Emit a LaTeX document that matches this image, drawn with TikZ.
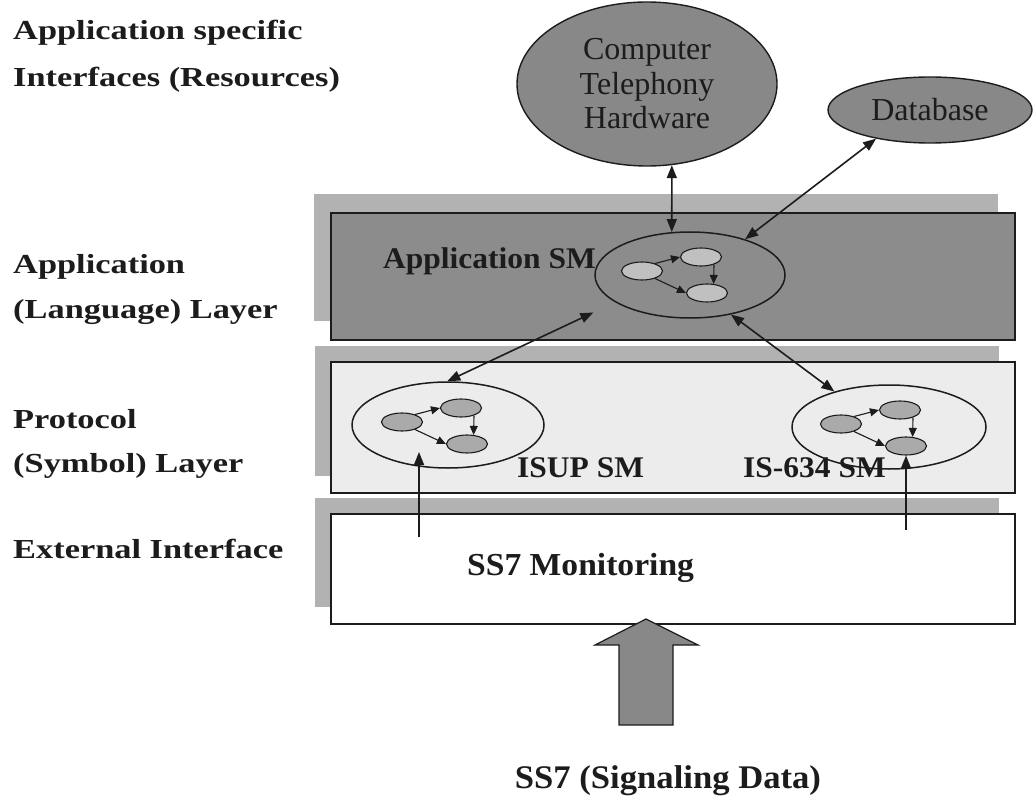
\documentclass[tikz,border=0pt]{standalone}
\usepackage{fontspec}
\setmainfont{Liberation Serif}
\newfontfamily\labfont[FakeStretch=1.25]{Liberation Serif Bold}
\newfontfamily\smfont[FakeStretch=1.05]{Liberation Serif Bold}
\usetikzlibrary{arrows.meta,shapes.geometric,calc}
\definecolor{appfill}{RGB}{140,140,140}
\definecolor{shadowc}{RGB}{178,178,178}
\definecolor{protofill}{RGB}{236,236,236}
\definecolor{ink}{RGB}{28,28,28}
\definecolor{smallA}{RGB}{192,192,192}
\definecolor{smallP}{RGB}{170,170,170}
\definecolor{resfill}{RGB}{136,136,136}
\newcommand{\smgraph}[4]{%
  \node[smallell, fill=#4] (#1l) at (#2,#3) {};
  \node[smallell, fill=#4] (#1t) at (#2+59,#3-14) {};
  \node[smallell, fill=#4] (#1b) at (#2+65,#3+22) {};
  \draw[innerarrow] (#1l.30) -- (#1t.west);
  \draw[innerarrow] (#1t.-30) -- (#1b.54);
  \draw[innerarrow] (#1l.-30) -- (#1b.west);
}
\begin{document}
\begin{tikzpicture}[x=1pt,y=-1pt,
  layerbox/.style={draw=ink,line width=2pt,inner sep=0pt,anchor=north west,minimum width=684pt},
  labtext/.style={anchor=base west,inner sep=0pt,text=ink,font=\labfont\fontsize{27.5}{30}\selectfont},
  smtext/.style={anchor=base west,inner sep=0pt,text=ink,font=\smfont\fontsize{30}{34}\selectfont},
  resource/.style={ellipse,draw=ink,line width=1.4pt,fill=resfill,inner sep=0pt,align=center,text=ink,font=\fontsize{32}{34.5}\selectfont},
  smell/.style={ellipse,draw=ink,line width=1.5pt,inner sep=0pt},
  smallell/.style={ellipse,draw=ink,line width=1.1pt,minimum width=41pt,minimum height=18pt,inner sep=0pt},
  innerarrow/.style={draw=ink,line width=1.1pt,-{Triangle[length=9pt,width=8pt]}},
  conn/.style={draw=ink,line width=1.6pt,{Triangle[length=13pt,width=10pt]}-{Triangle[length=13pt,width=10pt]}},
  upconn/.style={draw=ink,line width=1.6pt,-{Triangle[length=13pt,width=10pt]}},
  bigarr/.style={draw=ink,line width=1.2pt,fill=resfill,line join=miter}]
\useasboundingbox (0,0) rectangle (1035,802);

% left labels
\node[labtext] (l1a) at (13,40) {Application specific};
\node[labtext] (l1b) at (13,87) {Interfaces (Resources)};
\node[labtext] (l2a) at (13,273) {Application};
\node[labtext] (l2b) at (13,318) {(Language) Layer};
\node[labtext] (l3a) at (13,428) {Protocol};
\node[labtext] (l3b) at (13,472) {(Symbol) Layer};
\node[labtext] (l4) at (13,558) {External Interface};

% layers
\fill[shadowc] (314,194) rectangle (998,321);
\node[layerbox,fill=appfill,minimum height=127pt] (app) at (330,212) {};
\fill[shadowc] (315,346) rectangle (999,476);
\node[layerbox,fill=protofill,minimum height=131pt] (proto) at (330,361) {};
\fill[shadowc] (315,498) rectangle (999,607);
\node[layerbox,fill=white,minimum height=110pt] (ext) at (330,513) {};

% resources
\node[resource,minimum width=260pt,minimum height=164pt] (cth) at (647,84) {Computer\\Telephony\\Hardware};
\node[resource,minimum width=204pt,minimum height=66pt] (db) at (930,110) {Database};

% layer texts
\node[smtext] (appsmt) at (383,268) {Application SM};
\node[smtext] (isupt) at (517,477) {ISUP SM};
\node[smtext] (is634t) at (743,477) {IS-634 SM};
\node[smtext,font=\smfont\fontsize{32}{36}\selectfont] (ss7m) at (467,575) {SS7 Monitoring};

% state machines
\node[smell,minimum width=190pt,minimum height=86pt] (appsm) at (690,275) {};
\node[smell,minimum width=192pt,minimum height=86pt] (isup) at (448,425) {};
\node[smell,minimum width=194pt,minimum height=84pt] (is634) at (889,427) {};
\smgraph{a}{642}{271}{smallA}
\smgraph{p}{402}{422}{smallP}
\smgraph{q}{841}{424}{smallP}

% connectors
\draw[conn] (cth.-73) -- (appsm.113);
\draw[conn] (db.208) -- (appsm.33);
\draw[conn,shorten >=24pt] (isup.91) -- (appsm.200);
\draw[conn] (appsm.-44) -- (is634.147);
\coordinate (isupsrc) at (419,537);
\coordinate (isupdst) at (419,452);
\draw[upconn] (isupsrc) -- (isupdst);
\coordinate (is634src) at (906,530);
\draw[upconn] (is634src) -- (qb.south);

% big input arrow
\draw[bigarr] (619,725) -- (619,645) -- (595,645) -- (646,619) -- (698,645) -- (673,645) -- (673,725) -- cycle;
\node[anchor=base,inner sep=0pt,text=ink,font=\smfont\fontsize{33}{36}\selectfont] (ss7) at (668,788) {SS7 (Signaling Data)};
\end{tikzpicture}
\end{document}
